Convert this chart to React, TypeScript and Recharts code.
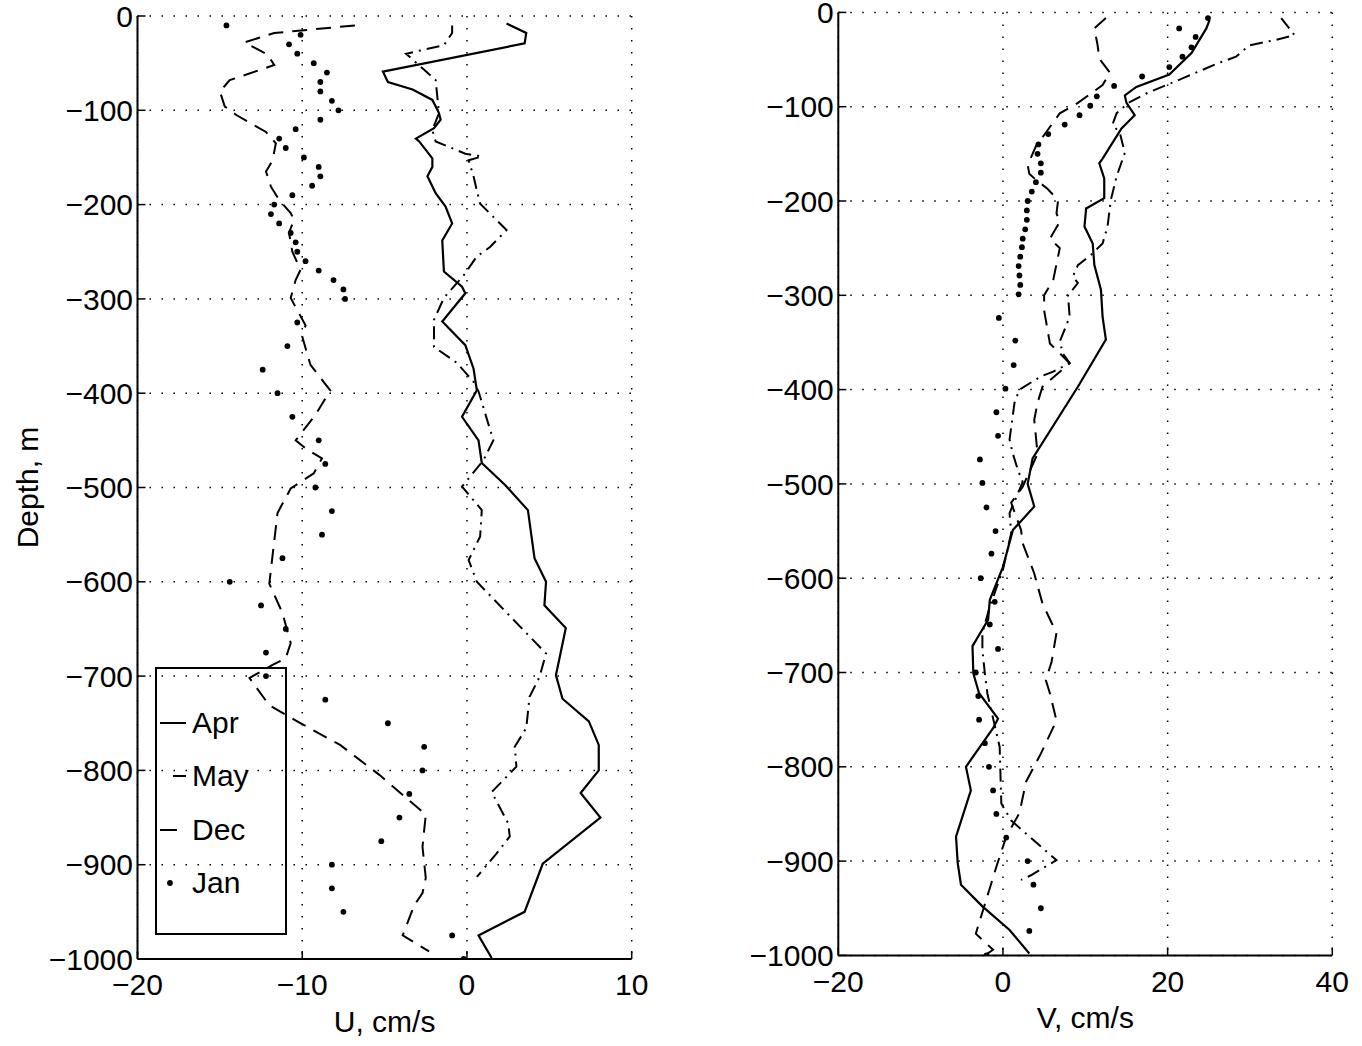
import React from "react";
import { ScatterChart, Scatter, XAxis, YAxis, CartesianGrid, Legend } from "recharts";

// ---- profiles: depth (m) and velocity (cm/s) ----

// U component (left panel)
const aprUDepth = [-8, -18, -29, -59, -70, -78, -89, -103, -110, -119, -130, -133, -151, -160, -170, -188, -202, -220, -238, -271, -287, -294, -324, -349, -374, -397, -425, -450, -474, -497, -524, -575, -600, -625, -649, -699, -724, -748, -773, -800, -824, -850, -899, -950, -975, -999];
const aprU = [2.4, 3.6, 3.5, -5.1, -4.8, -3.3, -2.1, -1.7, -1.6, -2.0, -3.1, -2.9, -2.1, -2.1, -2.4, -1.9, -1.3, -0.9, -1.5, -1.4, -0.3, -0.1, -1.5, -0.1, 0.4, 0.6, -0.3, 0.7, 0.9, 2.3, 3.7, 4.1, 4.8, 4.7, 6.0, 5.4, 5.8, 7.4, 8.0, 8.0, 6.9, 8.1, 4.6, 3.5, 0.7, 1.5];

const mayUDepth = [-10, -18, -31, -40, -57, -68, -103, -121, -133, -146, -149, -153, -170, -185, -199, -227, -245, -255, -275, -299, -322, -351, -368, -388, -398, -450, -471, -499, -524, -552, -577, -600, -676, -701, -722, -755, -775, -796, -823, -856, -870, -888, -913];
const mayU = [-0.9, -0.9, -1.4, -3.7, -2.6, -1.9, -1.7, -2.1, -1.9, -0.1, 0.9, 0.1, 0.4, 0.6, 0.8, 2.4, 1.4, 0.6, -0.2, -1.4, -2.0, -2.0, -0.6, 0.4, 0.7, 1.6, 1.0, -0.3, 0.9, 0.8, 0.1, 0.6, 4.8, 4.4, 3.8, 3.6, 2.9, 3.0, 1.5, 2.5, 2.6, 1.8, 0.6];

const decUDepth = [-10, -18, -28, -41, -52, -68, -80, -96, -105, -114, -123, -135, -153, -165, -181, -195, -209, -216, -230, -250, -269, -280, -299, -312, -328, -340, -370, -397, -423, -450, -460, -469, -485, -501, -527, -602, -633, -665, -681, -688, -702, -731, -749, -773, -805, -847, -881, -914, -930, -943, -975, -992];
const decU = [-6.8, -11.7, -13.5, -12.1, -11.7, -14.4, -15.0, -14.7, -14.0, -13.1, -12.2, -11.6, -11.8, -12.2, -11.9, -11.4, -10.7, -10.5, -10.8, -10.6, -10.1, -10.4, -10.7, -10.3, -9.8, -10.0, -9.5, -8.3, -9.2, -10.4, -9.7, -8.8, -9.3, -10.7, -11.5, -12.0, -11.2, -10.7, -11.0, -11.8, -13.2, -12.0, -10.2, -7.7, -5.3, -2.5, -2.7, -2.5, -2.7, -3.2, -3.9, -2.3];

const janUDepth = [-10, -20, -30, -40, -50, -60, -70, -80, -90, -100, -110, -120, -130, -140, -150, -160, -170, -180, -190, -200, -210, -220, -230, -240, -250, -260, -270, -280, -290, -300, -325, -350, -375, -400, -425, -450, -475, -500, -525, -550, -575, -600, -625, -650, -675, -700, -725, -750, -775, -800, -825, -850, -875, -900, -925, -950, -975, -1000];
const janU = [-14.6, -10.1, -10.8, -10.3, -9.3, -8.5, -8.9, -8.9, -8.2, -7.8, -8.9, -10.4, -11.4, -11.0, -9.9, -9.0, -8.9, -9.4, -10.6, -11.7, -11.9, -11.4, -10.7, -10.4, -10.3, -9.8, -9.0, -8.1, -7.5, -7.4, -10.3, -10.9, -12.4, -11.5, -10.6, -9.0, -8.6, -9.2, -8.2, -8.8, -11.2, -14.4, -12.5, -11.0, -12.2, -12.2, -8.6, -4.8, -2.6, -2.7, -3.5, -4.1, -5.2, -8.2, -8.2, -7.5, -0.9, -0.2];

// V component (right panel)
const aprVDepth = [-8, -17, -43, -66, -79, -88, -96, -109, -123, -155, -160, -176, -197, -208, -227, -245, -268, -294, -323, -347, -397, -473, -500, -524, -549, -588, -623, -644, -672, -701, -722, -749, -759, -800, -825, -874, -902, -925, -948, -973, -998];
const aprV = [25.1, 24.7, 22.9, 20.2, 16.2, 14.8, 15.0, 16.0, 14.4, 12.1, 11.7, 12.3, 12.3, 10.1, 9.9, 10.9, 11.1, 11.9, 12.1, 12.5, 9.1, 3.6, 3.0, 3.8, 1.2, 0.0, -1.6, -1.8, -3.7, -3.6, -2.9, -0.6, -1.2, -4.5, -3.9, -5.7, -5.5, -5.1, -2.5, 0.8, 3.2];

const mayVDepth = [-6, -24, -29, -35, -47, -54, -70, -86, -96, -107, -119, -128, -149, -174, -199, -227, -245, -257, -268, -280, -287, -300, -323, -349, -362, -372, -381, -386, -400, -414, -453, -468, -485, -498, -531, -552, -591, -630, -658, -676, -701, -722, -779, -839, -857, -899, -915, -920];
const mayV = [33.8, 35.4, 33.2, 29.9, 28.3, 26.1, 21.8, 17.4, 15.2, 13.8, 13.3, 14.2, 14.8, 13.8, 13.1, 12.7, 12.1, 10.7, 9.1, 8.5, 9.1, 7.9, 8.1, 6.9, 7.3, 8.1, 6.1, 4.6, 2.0, 1.4, 0.8, 1.2, 1.8, 2.4, 0.8, 1.0, 0.0, -1.6, -2.5, -2.5, -2.2, -1.9, -0.4, -0.2, 1.0, 6.5, 3.4, 2.2];

const decVDepth = [-6, -17, -35, -49, -64, -77, -96, -107, -130, -142, -162, -171, -176, -187, -199, -213, -222, -240, -250, -284, -300, -316, -351, -372, -397, -414, -432, -450, -468, -503, -520, -549, -563, -595, -627, -658, -689, -708, -722, -751, -786, -816, -849, -874, -906, -977, -994, -1000];
const decV = [12.5, 11.1, 11.5, 11.7, 13.0, 12.1, 9.1, 6.9, 5.0, 4.0, 3.0, 3.2, 3.8, 5.4, 6.7, 6.5, 6.9, 5.7, 6.9, 6.1, 5.0, 5.0, 5.7, 8.1, 4.8, 4.2, 3.8, 4.0, 4.2, 2.4, 1.0, 2.2, 2.4, 3.8, 4.8, 6.5, 5.9, 5.2, 5.7, 6.5, 4.6, 2.8, 2.0, 0.4, -0.8, -3.3, -1.2, -2.2];

const janVDepth = [-6, -17, -26, -37, -47, -58, -68, -78, -89, -99, -109, -119, -129, -140, -150, -160, -170, -180, -190, -200, -210, -220, -230, -240, -249, -259, -269, -279, -289, -299, -324, -348, -374, -399, -424, -449, -474, -499, -525, -550, -574, -600, -625, -649, -675, -700, -725, -750, -775, -800, -825, -850, -875, -900, -925, -950, -974, -1000];
const janV = [24.9, 21.4, 23.4, 22.9, 21.8, 20.2, 16.9, 13.5, 11.4, 10.6, 9.3, 7.5, 5.5, 4.3, 4.2, 4.6, 4.6, 4.0, 3.5, 3.0, 2.9, 2.9, 2.7, 2.4, 2.3, 2.1, 1.9, 2.0, 2.1, 1.9, -0.5, 1.5, 1.3, 0.3, -0.8, -0.6, -2.8, -2.5, -2.0, -0.9, -1.4, -2.7, -1.0, -1.6, -0.6, -3.3, -3.0, -2.9, -2.2, -1.7, -1.2, -0.8, 0.4, 3.0, 3.7, 4.6, 3.2, -2.0];

// axes
const depthTicks = [-1000, -900, -800, -700, -600, -500, -400, -300, -200, -100, 0];
const uTicks = [-20, -10, 0, 10];
const vTicks = [-20, 0, 20, 40];
const months = ["Apr", "May", "Dec", "Jan"];

const FONT = '"Liberation Sans", Arial, Helvetica, sans-serif';
const FS = 30;
const DASH = { Apr: undefined, May: "13 6 2 6", Dec: "15 9" } as Record<string, string | undefined>;

const toRows = (depth: number[], vals: number[]) => depth.map((d, i) => ({ v: vals[i], d }));
const fmt = (n: number) => (n < 0 ? `\u2212${Math.abs(n)}` : `${n}`);
const NoShape = () => <g />;
const Dot = (p: any) => <circle cx={p.cx} cy={p.cy} r={2.9} fill="#000" />;

const axisLine = { stroke: "#000", strokeWidth: 2 };
const tickLine = { stroke: "#000", strokeWidth: 1.5 };
const tickText = { fill: "#000", fontSize: FS, fontFamily: FONT };

// legend box is see-through in the original (grid shows inside it)
const LegendBox = () => (
  <div
    style={{
      width: 132,
      height: 268,
      boxSizing: "border-box",
      border: "2px solid #000",
      paddingTop: 27,
      fontFamily: FONT,
      fontSize: FS,
      color: "#000",
    }}
  >
    {months.map((m) => (
      <div key={m} style={{ height: 53.5, display: "flex", alignItems: "center" }}>
        <svg width={33} height={10} style={{ marginLeft: 2 }}>
          {m === "Jan" ? (
            <circle cx={11} cy={5} r={2.9} fill="#000" />
          ) : (
            <line
              x1={m === "May" ? 14 : 1}
              x2={m === "Dec" ? 18 : 27}
              y1={5}
              y2={5}
              stroke="#000"
              strokeWidth={2}
            />
          )}
        </svg>
        <span>{m}</span>
      </div>
    ))}
  </div>
);

interface PanelProps {
  left: number;
  width: number;
  margin: { top: number; right: number; bottom: number; left: number };
  xDomain: [number, number];
  xTicks: number[];
  xLabel: string;
  yLabel?: string;
  apr: { v: number; d: number }[];
  may: { v: number; d: number }[];
  dec: { v: number; d: number }[];
  jan: { v: number; d: number }[];
  legend?: boolean;
}

function Panel({ left, width, margin, xDomain, xTicks, xLabel, yLabel, apr, may, dec, jan, legend }: PanelProps) {
  return (
    <div style={{ position: "absolute", left, top: 0 }}>
      <ScatterChart width={width} height={1046} margin={margin}>
        <CartesianGrid stroke="#000" strokeWidth={1.5} strokeDasharray="1.5 10.5" />
        <XAxis
          dataKey="v"
          type="number"
          domain={xDomain}
          ticks={xTicks}
          allowDataOverflow
          interval={0}
          height={80}
          tickSize={-8}
          tickMargin={23}
          tickFormatter={fmt}
          axisLine={axisLine}
          tickLine={tickLine}
          tick={tickText}
          label={{ value: xLabel, position: "insideBottom", offset: 7, fill: "#000", fontSize: FS, fontFamily: FONT }}
        />
        <XAxis
          xAxisId="t"
          orientation="top"
          type="number"
          domain={xDomain}
          ticks={xTicks}
          allowDataOverflow
          interval={0}
          height={0}
          tickSize={-8}
          tickFormatter={() => ""}
          axisLine={axisLine}
          tickLine={tickLine}
        />
        <YAxis
          dataKey="d"
          type="number"
          domain={[-1000, 0]}
          ticks={depthTicks}
          allowDataOverflow
          interval={0}
          width={120}
          tickSize={-8}
          tickMargin={12.5}
          tickFormatter={fmt}
          axisLine={axisLine}
          tickLine={tickLine}
          tick={tickText}
          label={
            yLabel
              ? {
                  value: yLabel,
                  angle: -90,
                  position: "insideLeft",
                  offset: 10,
                  fill: "#000",
                  fontSize: FS,
                  fontFamily: FONT,
                  style: { textAnchor: "middle" },
                }
              : undefined
          }
        />
        <YAxis
          yAxisId="r"
          orientation="right"
          type="number"
          domain={[-1000, 0]}
          ticks={depthTicks}
          allowDataOverflow
          interval={0}
          width={0}
          tickSize={-8}
          tickFormatter={() => ""}
          axisLine={axisLine}
          tickLine={tickLine}
        />
        <Scatter data={apr} fill="#000" shape={NoShape} line={{ strokeWidth: 2.2 }} isAnimationActive={false} />
        <Scatter data={may} fill="#000" shape={NoShape} line={{ strokeWidth: 2, strokeDasharray: DASH.May }} isAnimationActive={false} />
        <Scatter data={dec} fill="#000" shape={NoShape} line={{ strokeWidth: 2, strokeDasharray: DASH.Dec }} isAnimationActive={false} />
        <Scatter data={jan} fill="#000" shape={Dot} isAnimationActive={false} />
        {legend && (
          <Legend
            layout="vertical"
            align="center"
            verticalAlign="middle"
            content={LegendBox}
            wrapperStyle={{ left: 155, top: 667, width: 132, height: 268 }}
          />
        )}
      </ScatterChart>
    </div>
  );
}

export default function App() {
  return (
    <div style={{ position: "absolute", left: 0, top: 0, width: 1362, height: 1046, background: "#fff" }}>
      <Panel
        left={0}
        width={660}
        margin={{ top: 16, right: 28.3, bottom: 7, left: 17.5 }}
        xDomain={[-20, 10]}
        xTicks={uTicks}
        xLabel="U, cm/s"
        yLabel="Depth, m"
        apr={toRows(aprUDepth, aprU)}
        may={toRows(mayUDepth, mayU)}
        dec={toRows(decUDepth, decU)}
        jan={toRows(janUDepth, janU)}
        legend
      />
      <Panel
        left={700}
        width={662}
        margin={{ top: 12.4, right: 29.7, bottom: 10.6, left: 18.3 }}
        xDomain={[-20, 40]}
        xTicks={vTicks}
        xLabel="V, cm/s"
        apr={toRows(aprVDepth, aprV)}
        may={toRows(mayVDepth, mayV)}
        dec={toRows(decVDepth, decV)}
        jan={toRows(janVDepth, janV)}
      />
    </div>
  );
}
